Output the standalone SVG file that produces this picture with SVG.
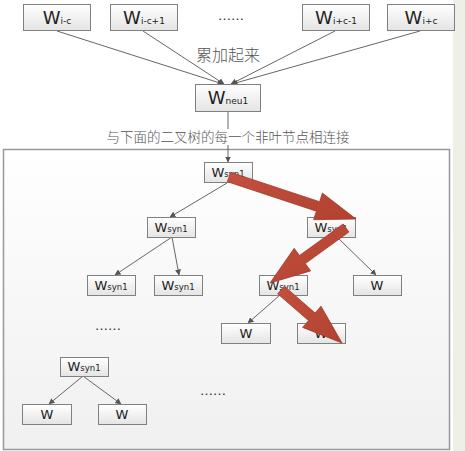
<svg xmlns="http://www.w3.org/2000/svg" width="465" height="451" viewBox="0 0 465 451">
<defs>
<linearGradient id="bg" x1="0" y1="0" x2="0" y2="1"><stop offset="0" stop-color="#ffffff"/><stop offset="1" stop-color="#f0f0f0"/></linearGradient>
<linearGradient id="bx" x1="0" y1="0" x2="0" y2="1"><stop offset="0" stop-color="#ffffff"/><stop offset="1" stop-color="#e4e4e4"/></linearGradient>
<linearGradient id="red" x1="0" y1="0" x2="1" y2="1"><stop offset="0" stop-color="#c4503f"/><stop offset="1" stop-color="#b2412f"/></linearGradient>
<marker id="ah" markerWidth="6" markerHeight="6" refX="5.5" refY="3" orient="auto" markerUnits="userSpaceOnUse"><path d="M0,0 L6,3 L0,6 Z" fill="#555"/></marker>
</defs>
<style>
.box{fill:url(#bx);stroke:#808080;stroke-width:1}
.w1{font-family:"DejaVu Sans",Verdana,sans-serif;font-size:18px;fill:#222}
.w2{font-family:"DejaVu Sans",Verdana,sans-serif;font-size:13px;fill:#222}
.s1{font-size:9px}
.s2{font-size:8.5px}
.cn{font-family:"Noto Sans CJK SC","Noto Sans CJK JP",sans-serif;font-weight:300;fill:#555}
.ln{stroke:#666;stroke-width:1;fill:none;marker-end:url(#ah)}
.ln0{stroke:#666;stroke-width:1;fill:none}
.dots{font-family:"DejaVu Sans",sans-serif;font-size:13px;fill:#333}
.ra{fill:url(#red);stroke:#a23a2a;stroke-width:0.8}
</style>
<rect x="0" y="0" width="465" height="451" fill="#ffffff"/>
<rect x="453" y="0" width="12" height="451" fill="#eef0e8"/>
<rect x="3.5" y="149.5" width="446" height="300" fill="url(#bg)" stroke="#999" stroke-width="1.5"/>

<g id="connectors">
<line class="ln" x1="57" y1="31" x2="223" y2="84"/>
<line class="ln" x1="143" y1="31" x2="224" y2="84"/>
<line class="ln" x1="335" y1="31" x2="231" y2="84"/>
<line class="ln" x1="420" y1="31" x2="232" y2="84"/>
<line class="ln0" x1="228" y1="112" x2="228" y2="129"/>
<line class="ln" x1="228" y1="145" x2="228" y2="162"/>
<line class="ln" x1="227" y1="183" x2="170" y2="217"/>
<line class="ln" x1="172" y1="237" x2="115" y2="275"/>
<line class="ln" x1="172" y1="237" x2="179" y2="275"/>
<line class="ln" x1="337" y1="237" x2="376" y2="275"/>
<line class="ln" x1="280" y1="295" x2="248" y2="323"/>
<line class="ln" x1="83" y1="376" x2="49" y2="404"/>
<line class="ln" x1="83" y1="376" x2="121" y2="404"/>
</g>

<g id="n-wic"><rect class="box" x="23.5" y="4.5" width="67" height="26"/><text class="w1" x="57" y="24" text-anchor="middle">W<tspan class="s1">i-c</tspan></text></g>
<g id="n-wic1"><rect class="box" x="110.5" y="4.5" width="67" height="26"/><text class="w1" x="144" y="24" text-anchor="middle">W<tspan class="s1">i-c+1</tspan></text></g>
<text id="dots-top" class="dots" x="231" y="20" text-anchor="middle">……</text>
<g id="n-wicm1"><rect class="box" x="302.5" y="4.5" width="67" height="26"/><text class="w1" x="336" y="24" text-anchor="middle">W<tspan class="s1">i+c-1</tspan></text></g>
<g id="n-wicp"><rect class="box" x="387.5" y="4.5" width="67" height="26"/><text class="w1" x="421" y="24" text-anchor="middle">W<tspan class="s1">i+c</tspan></text></g>

<text class="cn" x="228" y="61" font-size="16" text-anchor="middle">累加起来</text>

<g id="n-neu"><rect class="box" x="195.5" y="84.5" width="65" height="27"/><text class="w1" x="228" y="104" text-anchor="middle">W<tspan class="s1">neu1</tspan></text></g>

<text class="cn" x="228" y="142" font-size="13.5" text-anchor="middle">与下面的二叉树的每一个非叶节点相连接</text>

<g id="n-root"><rect class="box" x="204.5" y="162.5" width="48" height="20"/><text class="w2" x="228" y="177" text-anchor="middle">W<tspan class="s2">syn1</tspan></text></g>
<g id="n-l2a"><rect class="box" x="147.5" y="217.5" width="48" height="20"/><text class="w2" x="171" y="232" text-anchor="middle">W<tspan class="s2">syn1</tspan></text></g>
<g id="n-l2b"><rect class="box" x="307.5" y="217.5" width="48" height="20"/><text class="w2" x="331" y="232" text-anchor="middle">W<tspan class="s2">syn1</tspan></text></g>
<g id="n-l3a"><rect class="box" x="87.5" y="275.5" width="48" height="20"/><text class="w2" x="111" y="290" text-anchor="middle">W<tspan class="s2">syn1</tspan></text></g>
<g id="n-l3b"><rect class="box" x="154.5" y="275.5" width="48" height="20"/><text class="w2" x="178" y="290" text-anchor="middle">W<tspan class="s2">syn1</tspan></text></g>
<g id="n-l3c"><rect class="box" x="259.5" y="275.5" width="48" height="20"/><text class="w2" x="283" y="290" text-anchor="middle">W<tspan class="s2">syn1</tspan></text></g>
<g id="n-l3d"><rect class="box" x="353.5" y="275.5" width="48" height="20"/><text class="w2" x="377" y="290" text-anchor="middle">W</text></g>
<g id="n-l4a"><rect class="box" x="221.5" y="323.5" width="49" height="20"/><text class="w2" x="246" y="338" text-anchor="middle">W</text></g>
<g id="n-l4b"><rect class="box" x="297.5" y="323.5" width="48" height="20"/><text class="w2" x="321" y="338" text-anchor="middle">W</text></g>
<text id="dots-mid" class="dots" x="108" y="330" text-anchor="middle">……</text>
<g id="n-b1"><rect class="box" x="60.5" y="357.5" width="48" height="19"/><text class="w2" x="84" y="371" text-anchor="middle">W<tspan class="s2">syn1</tspan></text></g>
<g id="n-b2"><rect class="box" x="22.5" y="404.5" width="49" height="20"/><text class="w2" x="47" y="419" text-anchor="middle">W</text></g>
<g id="n-b3"><rect class="box" x="98.5" y="404.5" width="48" height="20"/><text class="w2" x="122" y="419" text-anchor="middle">W</text></g>
<text id="dots-bot" class="dots" x="213" y="395" text-anchor="middle">……</text>

<g id="red-arrows">
<polygon class="ra" points="227.4,181.7 316.4,211.2 313.6,219.7 356,219 322.4,193.1 319.6,201.7 230.6,172.3"/>
<polygon class="ra" points="343.1,224.0 299.5,255.5 294.2,248.3 270,283 310.6,270.9 305.3,263.6 348.9,232.0"/>
<polygon class="ra" points="277.7,293.8 308.5,320.6 302.6,327.4 342,343 321.0,306.2 315.1,313.0 284.3,286.2"/>
</g>
</svg>
